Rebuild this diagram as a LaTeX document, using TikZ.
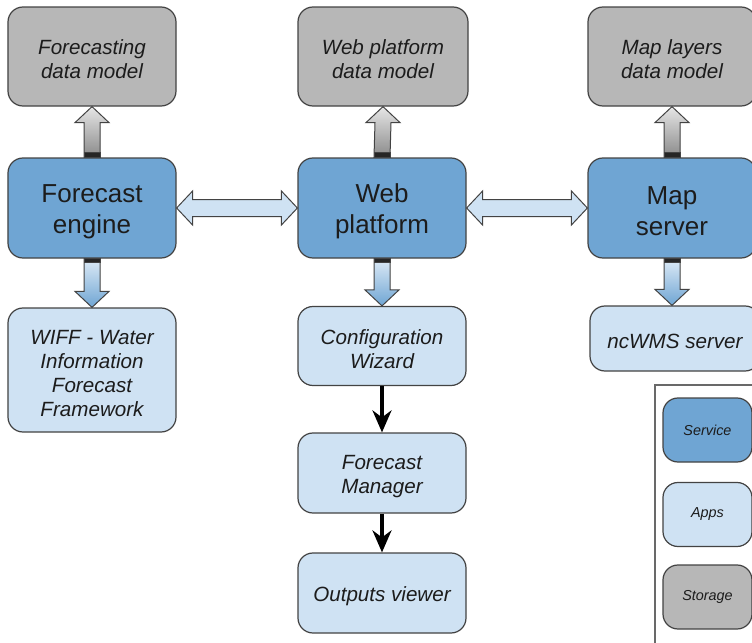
\documentclass[tikz,border=0pt]{standalone}
\usepackage{fontspec}
\setmainfont{Liberation Sans}
\usetikzlibrary{calc,arrows.meta}
\definecolor{servblue}{RGB}{111,165,211}
\definecolor{appblue}{RGB}{207,226,243}
\definecolor{storegray}{RGB}{183,183,183}
\definecolor{edgegray}{RGB}{67,67,67}
\definecolor{txtgray}{RGB}{28,28,28}

% taller first line, so the text sits a little low in its box
\newcommand{\lift}{\rule{0pt}{\dimexpr0.73em+3pt\relax}}

\tikzset{
  box/.style={draw=edgegray, line width=0.6pt, rounded corners=7.5pt, align=center,
    inner sep=0pt, text=txtgray, minimum width=84pt},
  service/.style={box, fill=servblue, minimum height=50pt, font=\fontsize{13}{15.5}\selectfont},
  app/.style={box, fill=appblue, font=\fontsize{10.3}{12}\selectfont\itshape},
  storage/.style={box, fill=storegray, minimum height=49.5pt, font=\fontsize{10.3}{12}\selectfont\itshape},
  legenditem/.style={box, minimum width=44.5pt, minimum height=32pt, font=\fontsize{7.2}{8.5}\selectfont\itshape},
  block/.style={draw=edgegray, line width=0.5pt, line join=miter},
  flow/.style={line width=1.8pt, -{Stealth[length=11pt,width=9.5pt,inset=3.5pt]}}
}

% fat arrow going up from #1 into #2
\newcommand{\upblock}[2]{%
  \draw[block, top color=storegray!35!white, bottom color=storegray!75!black]
    ($(#1.north)+(-8,0)$) -- ($(#2.south)+(-8,16)$) -- ($(#2.south)+(-17,16)$) -- (#2.south)
    -- ($(#2.south)+(17,16)$) -- ($(#2.south)+(8,16)$) -- ($(#1.north)+(8,0)$) -- cycle;
  \draw[block, fill=black!85] ($(#1.north)+(-8,-5)$) rectangle ($(#1.north)+(8,0)$);}

% fat arrow going down from #1 into #2
\newcommand{\downblock}[2]{%
  \coordinate (tip) at (#1.south |- #2.north);
  \draw[block, top color=appblue!70!white, bottom color=servblue]
    ($(#1.south)+(-8,0)$) -- ($(tip)+(-8,-16)$) -- ($(tip)+(-17,-16)$) -- (tip)
    -- ($(tip)+(17,-16)$) -- ($(tip)+(8,-16)$) -- ($(#1.south)+(8,0)$) -- cycle;
  \draw[block, fill=black!85] ($(#1.south)+(-8,0)$) rectangle ($(#1.south)+(8,4)$);}

% fat two-way arrow between #1 and #2
\newcommand{\twoblock}[2]{%
  \draw[block, fill=appblue]
    (#1.east) -- ($(#1.east)+(16,-17)$) -- ($(#1.east)+(16,-8.5)$)
    -- ($(#2.west)+(-16,-8.5)$) -- ($(#2.west)+(-16,-17)$) -- (#2.west)
    -- ($(#2.west)+(-16,17)$) -- ($(#2.west)+(-16,8.5)$)
    -- ($(#1.east)+(16,8.5)$) -- ($(#1.east)+(16,17)$) -- cycle;}

\begin{document}
\begin{tikzpicture}[x=0.5pt, y=-0.5pt]
\useasboundingbox (0,0) rectangle (752,643);
\clip (0,0) rectangle (752,643);

% storage row
\node[storage] (fcmodel) at (92,56.5) {\lift Forecasting\\data model};
\node[storage, minimum width=85pt] (webmodel) at (383,56.5) {\lift Web platform\\data model};
\node[storage] (mapmodel) at (672,56.5) {\lift Map layers\\data model};

% services
\node[service] (engine) at (92,208) {\lift Forecast\\engine};
\node[service] (web) at (382,208) {\lift Web\\platform};
\node[service] (mapsrv) at (672,208) {\lift Map\\server};

% apps
\node[app, minimum height=62pt] (wiff) at (92,370) {\lift WIFF - Water\\Information\\Forecast\\Framework};
\node[app, minimum height=39.5pt] (wizard) at (382,346) {\lift Configuration\\Wizard};
\node[app, minimum height=40pt] (manager) at (382,473) {\lift Forecast\\Manager};
\node[app, minimum height=40pt] (viewer) at (382,593) {\lift Outputs viewer};
\node[app, minimum width=85pt, minimum height=32.5pt] (ncwms) at (675,338.5) {\lift ncWMS server};

\upblock{engine}{fcmodel}
\upblock{web}{webmodel}
\upblock{mapsrv}{mapmodel}
\twoblock{engine}{web}
\twoblock{web}{mapsrv}
\downblock{engine}{wiff}
\downblock{web}{wizard}
\downblock{mapsrv}{ncwms}

\draw[flow] (wizard) -- (manager);
\draw[flow] (manager) -- (viewer);

% legend
\draw[edgegray!80, line width=0.6pt] (655,385) rectangle (770,660);
\node[legenditem, fill=servblue] (keyservice) at (707.5,430) {Service};
\node[legenditem, fill=appblue] (keyapps) at (707.5,514.5) {Apps};
\node[legenditem, fill=storegray] (keystorage) at (707.5,597) {Storage};
\end{tikzpicture}
\end{document}
